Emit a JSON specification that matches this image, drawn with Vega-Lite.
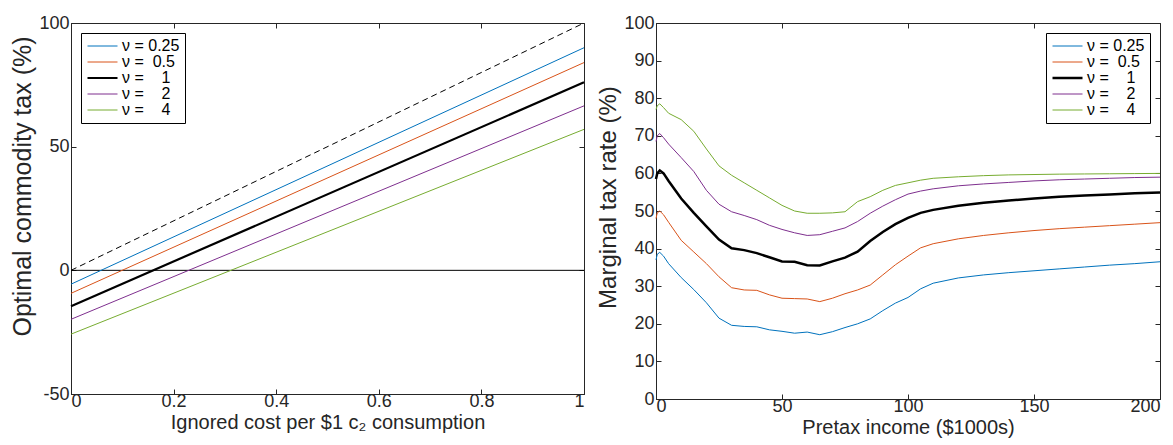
{
  "$schema": "https://vega.github.io/schema/vega-lite/v6.json",
  "background": "white",
  "padding": {"left": 10, "top": 13, "right": 5, "bottom": 0},
  "config": {
    "font": "Liberation Sans",
    "view": {"stroke": "#262626", "strokeWidth": 1},
    "axis": {
      "labelFont": "Liberation Sans", "labelFontSize": 18, "labelColor": "#262626",
      "titleFont": "Liberation Sans", "titleFontSize": 20, "titleColor": "#262626", "titleFontWeight": "normal",
      "tickColor": "#262626", "domainColor": "#262626", "tickSize": -5, "labelPadding": 3,
      "grid": false, "titlePadding": 2
    },
    "axisY": {"titleFontSize": 24, "labelPadding": 7, "titlePadding": 3},
    "legend": {
      "fillColor": "white", "strokeColor": "black", "padding": 5, "offset": 10,
      "symbolType": "stroke", "symbolSize": 900, "labelFont": "Liberation Sans", "labelFontSize": 16,
      "labelColor": "black", "rowPadding": 0, "clipHeight": 16, "labelOffset": 3, "title": null
    }
  },
  "datasets": {
    "left": [
      {"nu": "0.25", "x": 0, "y": -5.6}, {"nu": "0.25", "x": 1, "y": 90},
      {"nu": "0.5", "x": 0, "y": -9.3}, {"nu": "0.5", "x": 1, "y": 84},
      {"nu": "1", "x": 0, "y": -14.5}, {"nu": "1", "x": 1, "y": 76},
      {"nu": "2", "x": 0, "y": -19.8}, {"nu": "2", "x": 1, "y": 66.5},
      {"nu": "4", "x": 0, "y": -25.8}, {"nu": "4", "x": 1, "y": 57}
    ],
    "diag": [{"x": 0, "y": 0}, {"x": 1, "y": 100}],
    "zero": [{"y": 0}],
    "right": [
      {"nu":"0.25","inc":0,"mtr":37},{"nu":"0.25","inc":0.5,"mtr":38.5},{"nu":"0.25","inc":1.5,"mtr":39},{"nu":"0.25","inc":3,"mtr":38},{"nu":"0.25","inc":5,"mtr":36},{"nu":"0.25","inc":10,"mtr":32.3},{"nu":"0.25","inc":15,"mtr":29.1},{"nu":"0.25","inc":20,"mtr":25.6},{"nu":"0.25","inc":25,"mtr":21.5},{"nu":"0.25","inc":30,"mtr":19.6},{"nu":"0.25","inc":35,"mtr":19.3},{"nu":"0.25","inc":40,"mtr":19.2},{"nu":"0.25","inc":45,"mtr":18.4},{"nu":"0.25","inc":50,"mtr":18},{"nu":"0.25","inc":55,"mtr":17.5},{"nu":"0.25","inc":60,"mtr":17.8},{"nu":"0.25","inc":65,"mtr":17.1},{"nu":"0.25","inc":70,"mtr":17.9},{"nu":"0.25","inc":75,"mtr":19},{"nu":"0.25","inc":80,"mtr":20},{"nu":"0.25","inc":85,"mtr":21.3},{"nu":"0.25","inc":90,"mtr":23.5},{"nu":"0.25","inc":95,"mtr":25.5},{"nu":"0.25","inc":100,"mtr":27},{"nu":"0.25","inc":105,"mtr":29.3},{"nu":"0.25","inc":110,"mtr":30.8},{"nu":"0.25","inc":120,"mtr":32.2},{"nu":"0.25","inc":130,"mtr":33},{"nu":"0.25","inc":140,"mtr":33.6},{"nu":"0.25","inc":150,"mtr":34.1},{"nu":"0.25","inc":160,"mtr":34.6},{"nu":"0.25","inc":170,"mtr":35.1},{"nu":"0.25","inc":180,"mtr":35.6},{"nu":"0.25","inc":190,"mtr":36},{"nu":"0.25","inc":200,"mtr":36.5},
      {"nu":"0.5","inc":0,"mtr":48},{"nu":"0.5","inc":0.5,"mtr":49.5},{"nu":"0.5","inc":1.5,"mtr":50},{"nu":"0.5","inc":3,"mtr":49},{"nu":"0.5","inc":5,"mtr":47},{"nu":"0.5","inc":10,"mtr":42.2},{"nu":"0.5","inc":15,"mtr":39.1},{"nu":"0.5","inc":20,"mtr":36},{"nu":"0.5","inc":25,"mtr":32.5},{"nu":"0.5","inc":30,"mtr":29.6},{"nu":"0.5","inc":35,"mtr":29},{"nu":"0.5","inc":40,"mtr":28.9},{"nu":"0.5","inc":45,"mtr":27.7},{"nu":"0.5","inc":50,"mtr":26.8},{"nu":"0.5","inc":55,"mtr":26.7},{"nu":"0.5","inc":60,"mtr":26.6},{"nu":"0.5","inc":65,"mtr":25.9},{"nu":"0.5","inc":70,"mtr":26.8},{"nu":"0.5","inc":75,"mtr":28},{"nu":"0.5","inc":80,"mtr":29},{"nu":"0.5","inc":85,"mtr":30.3},{"nu":"0.5","inc":90,"mtr":33},{"nu":"0.5","inc":95,"mtr":35.7},{"nu":"0.5","inc":100,"mtr":38},{"nu":"0.5","inc":105,"mtr":40.2},{"nu":"0.5","inc":110,"mtr":41.3},{"nu":"0.5","inc":120,"mtr":42.6},{"nu":"0.5","inc":130,"mtr":43.5},{"nu":"0.5","inc":140,"mtr":44.2},{"nu":"0.5","inc":150,"mtr":44.8},{"nu":"0.5","inc":160,"mtr":45.3},{"nu":"0.5","inc":170,"mtr":45.7},{"nu":"0.5","inc":180,"mtr":46.1},{"nu":"0.5","inc":190,"mtr":46.5},{"nu":"0.5","inc":200,"mtr":46.9},
      {"nu":"1","inc":0,"mtr":58.5},{"nu":"1","inc":0.5,"mtr":60},{"nu":"1","inc":1.5,"mtr":60.8},{"nu":"1","inc":3,"mtr":60},{"nu":"1","inc":5,"mtr":58},{"nu":"1","inc":10,"mtr":53.3},{"nu":"1","inc":15,"mtr":49.5},{"nu":"1","inc":20,"mtr":45.9},{"nu":"1","inc":25,"mtr":42.4},{"nu":"1","inc":30,"mtr":40.1},{"nu":"1","inc":35,"mtr":39.6},{"nu":"1","inc":40,"mtr":38.8},{"nu":"1","inc":45,"mtr":37.7},{"nu":"1","inc":50,"mtr":36.6},{"nu":"1","inc":55,"mtr":36.5},{"nu":"1","inc":60,"mtr":35.6},{"nu":"1","inc":65,"mtr":35.5},{"nu":"1","inc":70,"mtr":36.6},{"nu":"1","inc":75,"mtr":37.6},{"nu":"1","inc":80,"mtr":39.2},{"nu":"1","inc":85,"mtr":42},{"nu":"1","inc":90,"mtr":44.4},{"nu":"1","inc":95,"mtr":46.5},{"nu":"1","inc":100,"mtr":48.2},{"nu":"1","inc":105,"mtr":49.5},{"nu":"1","inc":110,"mtr":50.3},{"nu":"1","inc":120,"mtr":51.4},{"nu":"1","inc":130,"mtr":52.2},{"nu":"1","inc":140,"mtr":52.8},{"nu":"1","inc":150,"mtr":53.3},{"nu":"1","inc":160,"mtr":53.8},{"nu":"1","inc":170,"mtr":54.1},{"nu":"1","inc":180,"mtr":54.4},{"nu":"1","inc":190,"mtr":54.7},{"nu":"1","inc":200,"mtr":54.9},
      {"nu":"2","inc":0,"mtr":68.5},{"nu":"2","inc":0.5,"mtr":70},{"nu":"2","inc":1.5,"mtr":70.6},{"nu":"2","inc":3,"mtr":69.5},{"nu":"2","inc":5,"mtr":67.8},{"nu":"2","inc":10,"mtr":64.2},{"nu":"2","inc":15,"mtr":60.5},{"nu":"2","inc":20,"mtr":55.5},{"nu":"2","inc":25,"mtr":51.8},{"nu":"2","inc":30,"mtr":49.8},{"nu":"2","inc":35,"mtr":48.8},{"nu":"2","inc":40,"mtr":47.7},{"nu":"2","inc":45,"mtr":46.2},{"nu":"2","inc":50,"mtr":45.1},{"nu":"2","inc":55,"mtr":44.2},{"nu":"2","inc":60,"mtr":43.5},{"nu":"2","inc":65,"mtr":43.7},{"nu":"2","inc":70,"mtr":44.6},{"nu":"2","inc":75,"mtr":45.5},{"nu":"2","inc":80,"mtr":47.2},{"nu":"2","inc":85,"mtr":49.4},{"nu":"2","inc":90,"mtr":51.3},{"nu":"2","inc":95,"mtr":53},{"nu":"2","inc":100,"mtr":54.5},{"nu":"2","inc":105,"mtr":55.3},{"nu":"2","inc":110,"mtr":55.9},{"nu":"2","inc":120,"mtr":56.7},{"nu":"2","inc":130,"mtr":57.2},{"nu":"2","inc":140,"mtr":57.6},{"nu":"2","inc":150,"mtr":58},{"nu":"2","inc":160,"mtr":58.3},{"nu":"2","inc":170,"mtr":58.5},{"nu":"2","inc":180,"mtr":58.7},{"nu":"2","inc":190,"mtr":58.9},{"nu":"2","inc":200,"mtr":59},
      {"nu":"4","inc":0,"mtr":77},{"nu":"4","inc":0.5,"mtr":78},{"nu":"4","inc":1.5,"mtr":78.5},{"nu":"4","inc":3,"mtr":77.5},{"nu":"4","inc":5,"mtr":76},{"nu":"4","inc":10,"mtr":74.3},{"nu":"4","inc":15,"mtr":71.2},{"nu":"4","inc":20,"mtr":66.5},{"nu":"4","inc":25,"mtr":62},{"nu":"4","inc":30,"mtr":59.5},{"nu":"4","inc":35,"mtr":57.5},{"nu":"4","inc":40,"mtr":55.5},{"nu":"4","inc":45,"mtr":53.5},{"nu":"4","inc":50,"mtr":51.5},{"nu":"4","inc":55,"mtr":50},{"nu":"4","inc":60,"mtr":49.4},{"nu":"4","inc":65,"mtr":49.4},{"nu":"4","inc":70,"mtr":49.5},{"nu":"4","inc":75,"mtr":49.8},{"nu":"4","inc":80,"mtr":52.5},{"nu":"4","inc":85,"mtr":53.8},{"nu":"4","inc":90,"mtr":55.5},{"nu":"4","inc":95,"mtr":56.8},{"nu":"4","inc":100,"mtr":57.5},{"nu":"4","inc":105,"mtr":58.2},{"nu":"4","inc":110,"mtr":58.7},{"nu":"4","inc":120,"mtr":59.1},{"nu":"4","inc":130,"mtr":59.4},{"nu":"4","inc":140,"mtr":59.6},{"nu":"4","inc":150,"mtr":59.7},{"nu":"4","inc":160,"mtr":59.8},{"nu":"4","inc":170,"mtr":59.85},{"nu":"4","inc":180,"mtr":59.9},{"nu":"4","inc":190,"mtr":59.95},{"nu":"4","inc":200,"mtr":60}
    ]
  },
  "hconcat": [
    {
      "width": 513,
      "height": 371,
      "resolve": {"axis": {"x": "independent", "y": "independent"}},
      "layer": [
        {
          "data": {"name": "zero"},
          "mark": {"type": "rule", "color": "black", "strokeWidth": 1},
          "encoding": {"y": {"field": "y", "type": "quantitative", "axis": null}}
        },
        {
          "data": {"name": "diag"},
          "mark": {"type": "line", "color": "black", "strokeWidth": 1, "strokeDash": [6, 4]},
          "encoding": {
            "x": {"field": "x", "type": "quantitative", "axis": {"orient": "top", "labels": false, "domain": false, "title": null, "values": [0, 0.2, 0.4, 0.6, 0.8, 1]}},
            "y": {"field": "y", "type": "quantitative", "axis": {"orient": "right", "labels": false, "domain": false, "title": null, "values": [-50, 0, 50, 100]}}
          }
        },
        {
          "data": {"name": "left"},
          "mark": {"type": "line"},
          "encoding": {
            "x": {"field": "x", "type": "quantitative", "scale": {"domain": [0, 1], "nice": false},
                  "axis": {"title": "Ignored cost per $1 c₂ consumption", "values": [0, 0.2, 0.4, 0.6, 0.8, 1], "format": "~g"}},
            "y": {"field": "y", "type": "quantitative", "scale": {"domain": [-50, 100], "nice": false},
                  "axis": {"title": "Optimal commodity tax (%)", "titleY": 163, "titleFontSize": 25, "values": [-50, 0, 50, 100], "labelExpr": "replace(datum.label, '−', '-')"}},
            "color": {"field": "nu", "type": "nominal",
                      "scale": {"domain": ["0.25", "0.5", "1", "2", "4"], "range": ["#0072BD", "#D95319", "#000000", "#7E2F8E", "#77AC30"]},
                      "legend": {"orient": "top-left", "labelExpr": "'ν = ' + (datum.label == '0.25' ? '' : datum.label == '0.5' ? '\u00a0' : '\u00a0\u00a0\u00a0') + datum.label"}},
            "strokeWidth": {"field": "nu", "type": "nominal",
                      "scale": {"type": "ordinal", "domain": ["0.25", "0.5", "1", "2", "4"], "range": [1, 1, 2.2, 1, 1]},
                      "legend": {"orient": "top-left", "labelExpr": "'ν = ' + (datum.label == '0.25' ? '' : datum.label == '0.5' ? '\u00a0' : '\u00a0\u00a0\u00a0') + datum.label"}}
          }
        }
      ]
    },
    {
      "width": 504,
      "height": 376,
      "resolve": {"axis": {"x": "independent", "y": "independent"}},
      "layer": [
        {
          "data": {"name": "right"},
          "mark": {"type": "point", "opacity": 0},
          "encoding": {
            "x": {"field": "inc", "type": "quantitative", "axis": {"orient": "top", "labels": false, "domain": false, "title": null, "values": [0, 50, 100, 150, 200]}},
            "y": {"field": "mtr", "type": "quantitative", "axis": {"orient": "right", "labels": false, "domain": false, "title": null, "values": [0, 10, 20, 30, 40, 50, 60, 70, 80, 90, 100]}}
          }
        },
        {
          "data": {"name": "right"},
          "mark": {"type": "line"},
          "encoding": {
            "x": {"field": "inc", "type": "quantitative", "scale": {"domain": [0, 200], "nice": false},
                  "axis": {"title": "Pretax income ($1000s)", "values": [0, 50, 100, 150, 200]}},
            "y": {"field": "mtr", "type": "quantitative", "scale": {"domain": [0, 100], "nice": false},
                  "axis": {"title": "Marginal tax rate (%)", "titleY": 174, "values": [0, 10, 20, 30, 40, 50, 60, 70, 80, 90, 100]}},
            "color": {"field": "nu", "type": "nominal",
                      "scale": {"domain": ["0.25", "0.5", "1", "2", "4"], "range": ["#0072BD", "#D95319", "#000000", "#7E2F8E", "#77AC30"]},
                      "legend": {"orient": "top-right", "labelExpr": "'ν = ' + (datum.label == '0.25' ? '' : datum.label == '0.5' ? '\u00a0' : '\u00a0\u00a0\u00a0') + datum.label"}},
            "strokeWidth": {"field": "nu", "type": "nominal",
                      "scale": {"type": "ordinal", "domain": ["0.25", "0.5", "1", "2", "4"], "range": [1, 1, 2.5, 1, 1]},
                      "legend": {"orient": "top-right", "labelExpr": "'ν = ' + (datum.label == '0.25' ? '' : datum.label == '0.5' ? '\u00a0' : '\u00a0\u00a0\u00a0') + datum.label"}}
          }
        }
      ]
    }
  ],
  "spacing": 72,
  "bounds": "flush",
  "resolve": {
    "scale": {"color": "independent", "strokeWidth": "independent"},
    "legend": {"color": "independent", "strokeWidth": "independent"}
  }
}
